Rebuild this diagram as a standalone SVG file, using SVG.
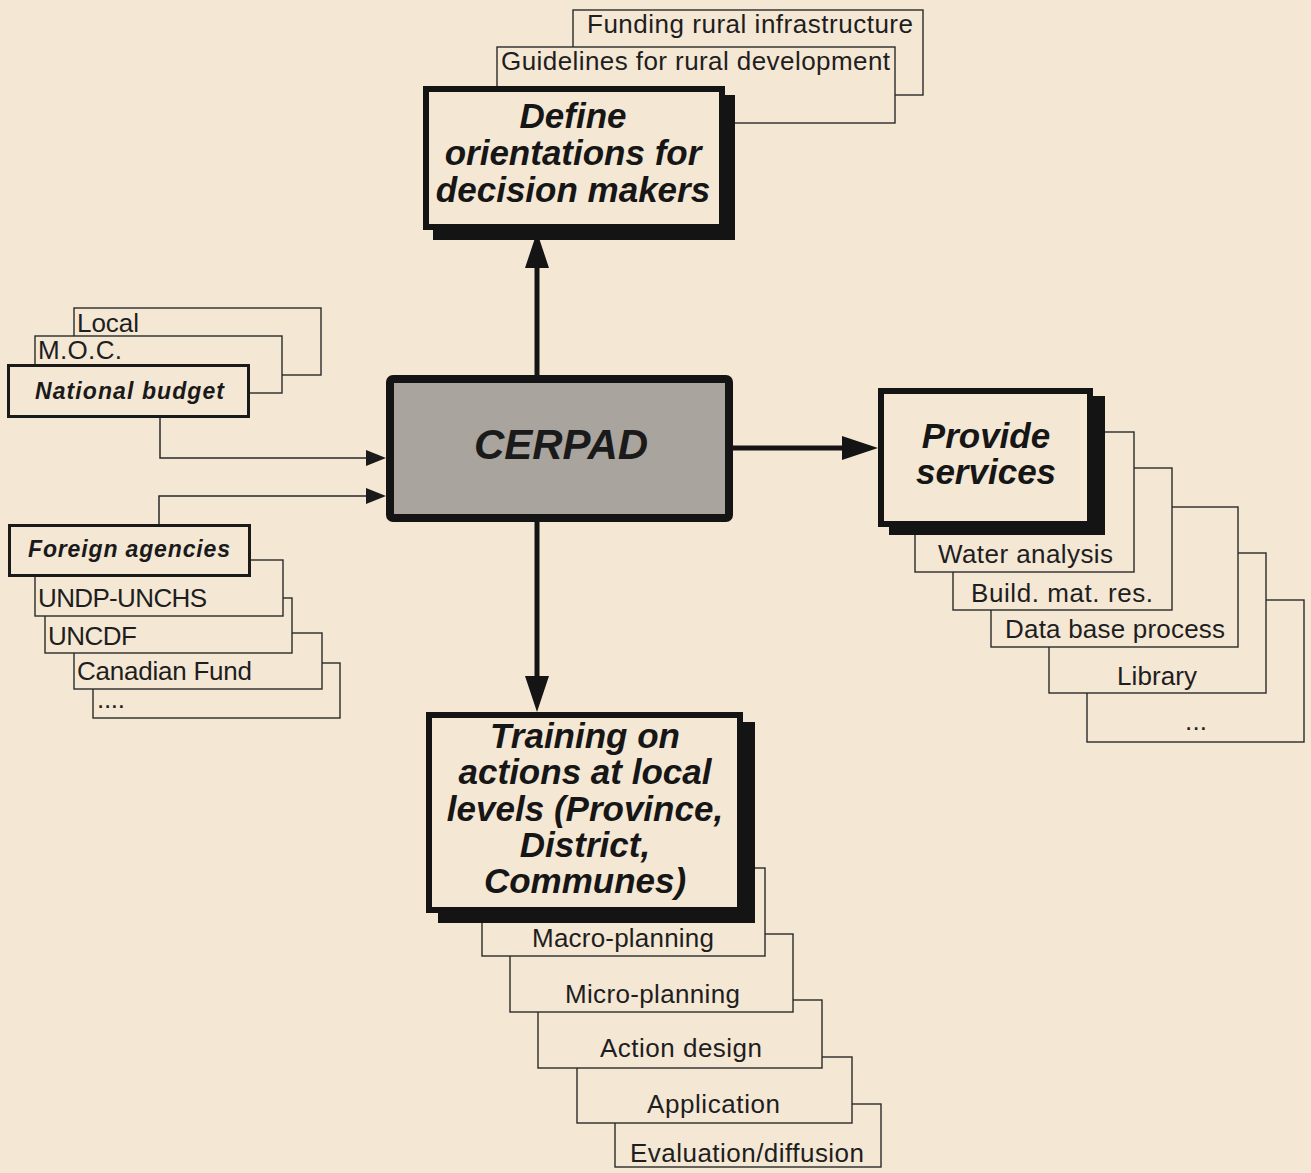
<svg xmlns="http://www.w3.org/2000/svg" width="1311" height="1173" viewBox="0 0 1311 1173">
<style>
.bg{fill:#f4e7d4}
.box{fill:#f4e7d4;stroke:#2a2a2a;stroke-width:1.4}
.hbox{fill:#f4e7d4;stroke:#1a1a1a;stroke-width:3}
.main{fill:#f4e7d4;stroke:#141414;stroke-width:6}
.shadow{fill:#141414}
.cer{fill:#a9a49d;stroke:#141414;stroke-width:8}
.t{font-family:"Liberation Sans",Arial,sans-serif;font-size:26px;fill:#1e1e1e}
.tb{font-family:"Liberation Sans",Arial,sans-serif;font-size:23px;font-weight:bold;font-style:italic;fill:#1a1a1a}
.big{font-family:"Liberation Sans",Arial,sans-serif;font-size:35px;font-weight:bold;font-style:italic;fill:#161616;text-anchor:middle}
.cert{font-family:"Liberation Sans",Arial,sans-serif;font-size:42px;font-weight:bold;font-style:italic;fill:#1a1a1a;text-anchor:middle}
.thick{fill:none;stroke:#141414;stroke-width:5}
.thin{fill:none;stroke:#2a2a2a;stroke-width:1.5}
</style>
<defs>
<marker id="bigArrow" markerUnits="userSpaceOnUse" markerWidth="38" markerHeight="26" refX="12" refY="12" orient="auto">
<path d="M0,0 L36,12 L0,24 Z" fill="#141414"/>
</marker>
<marker id="smallArrow" markerUnits="userSpaceOnUse" markerWidth="22" markerHeight="18" refX="4" refY="8" orient="auto">
<path d="M0,0 L20,8 L0,16 Z" fill="#1a1a1a"/>
</marker>
</defs>
<rect class="bg" x="0" y="0" width="1311" height="1173"/>

<g id="connectors">
<path class="thick" d="M537,377 V256" marker-end="url(#bigArrow)"/>
<path class="thick" d="M733,448 H854" marker-end="url(#bigArrow)"/>
<path class="thick" d="M537,522 V688" marker-end="url(#bigArrow)"/>
<path class="thin" d="M160,418 V458 H370" marker-end="url(#smallArrow)"/>
<path class="thin" d="M159,524 V496 H370" marker-end="url(#smallArrow)"/>
</g>

<g id="funding-rural-infrastructure">
<rect class="box" x="573" y="10" width="350" height="85"/>
<text class="t" x="587" y="33" textLength="326">Funding rural infrastructure</text>
</g>
<g id="guidelines-rural-development">
<rect class="box" x="497" y="47" width="398" height="76"/>
<text class="t" x="501" y="70" textLength="389">Guidelines for rural development</text>
</g>
<g id="define-orientations">
<rect class="shadow" x="433" y="95" width="302" height="145"/>
<rect class="main" x="426" y="89" width="296" height="138"/>
<text class="big" x="573" y="128">Define</text>
<text class="big" x="573" y="165">orientations for</text>
<text class="big" x="573" y="202">decision makers</text>
</g>

<g id="local">
<rect class="box" x="74" y="308" width="247" height="67"/>
<text class="t" x="77" y="332" textLength="62">Local</text>
</g>
<g id="moc">
<rect class="box" x="35" y="336" width="247" height="57"/>
<text class="t" x="38" y="359" textLength="84">M.O.C.</text>
</g>
<g id="national-budget">
<rect class="hbox" x="8.5" y="365.5" width="240" height="51"/>
<text class="tb" x="35" y="399" textLength="189">National budget</text>
</g>

<g id="dots-foreign">
<rect class="box" x="93" y="663" width="247" height="55"/>
<text class="t" x="97" y="708" textLength="28">....</text>
</g>
<g id="canadian-fund">
<rect class="box" x="74" y="633" width="248" height="56"/>
<text class="t" x="77" y="680" textLength="175">Canadian Fund</text>
</g>
<g id="uncdf">
<rect class="box" x="45" y="598" width="247" height="55"/>
<text class="t" x="48" y="645" textLength="89">UNCDF</text>
</g>
<g id="undp-unchs">
<rect class="box" x="35" y="560" width="248" height="56"/>
<text class="t" x="38" y="607" textLength="169">UNDP-UNCHS</text>
</g>
<g id="foreign-agencies">
<rect class="hbox" x="9.5" y="525.5" width="240" height="50"/>
<text class="tb" x="28" y="557" textLength="202">Foreign agencies</text>
</g>

<g id="cerpad">
<rect class="cer" x="390" y="379" width="339" height="139" rx="3"/>
<text class="cert" x="561" y="459">CERPAD</text>
</g>

<g id="dots-services">
<rect class="box" x="1087" y="600" width="217" height="142"/>
<text class="t" x="1185" y="730" textLength="22">...</text>
</g>
<g id="library">
<rect class="box" x="1049" y="553" width="217" height="140"/>
<text class="t" x="1117" y="685" textLength="80">Library</text>
</g>
<g id="data-base-process">
<rect class="box" x="991" y="507" width="247" height="140"/>
<text class="t" x="1005" y="638" textLength="220">Data base process</text>
</g>
<g id="build-mat-res">
<rect class="box" x="953" y="468" width="219" height="142"/>
<text class="t" x="971" y="602" textLength="182">Build. mat. res.</text>
</g>
<g id="water-analysis">
<rect class="box" x="915" y="432" width="219" height="140"/>
<text class="t" x="938" y="563" textLength="175">Water analysis</text>
</g>
<g id="provide-services">
<rect class="shadow" x="889" y="396" width="216" height="139"/>
<rect class="main" x="881" y="391" width="209" height="133"/>
<text class="big" x="986" y="448">Provide</text>
<text class="big" x="986" y="484">services</text>
</g>

<g id="evaluation-diffusion">
<rect class="box" x="615" y="1104" width="266" height="63"/>
<text class="t" x="630" y="1162" textLength="234">Evaluation/diffusion</text>
</g>
<g id="application">
<rect class="box" x="577" y="1057" width="275" height="66"/>
<text class="t" x="647" y="1113" textLength="133">Application</text>
</g>
<g id="action-design">
<rect class="box" x="538" y="1000" width="284" height="68"/>
<text class="t" x="600" y="1057" textLength="162">Action design</text>
</g>
<g id="micro-planning">
<rect class="box" x="510" y="934" width="283" height="78"/>
<text class="t" x="565" y="1003" textLength="175">Micro-planning</text>
</g>
<g id="macro-planning">
<rect class="box" x="482" y="868" width="283" height="88"/>
<text class="t" x="532" y="947" textLength="182">Macro-planning</text>
</g>
<g id="training">
<rect class="shadow" x="438" y="722" width="317" height="201"/>
<rect class="main" x="429" y="715" width="311" height="195"/>
<text class="big" x="585" y="748">Training on</text>
<text class="big" x="585" y="784">actions at local</text>
<text class="big" x="585" y="821">levels (Province,</text>
<text class="big" x="585" y="857">District,</text>
<text class="big" x="585" y="893">Communes)</text>
</g>
</svg>
